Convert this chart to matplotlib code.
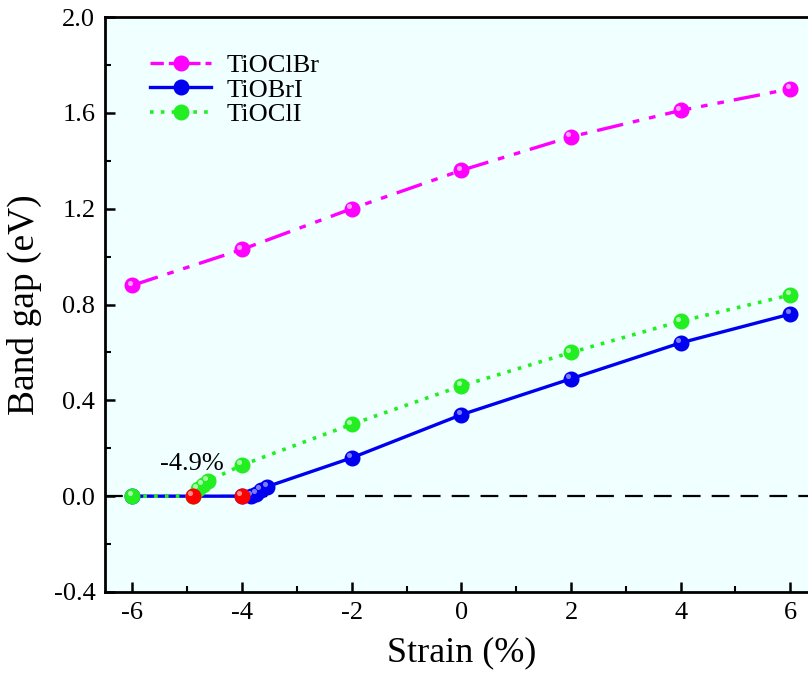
import matplotlib
matplotlib.use("Agg")
import matplotlib.pyplot as plt
from matplotlib.transforms import offset_copy
from matplotlib.lines import Line2D

plt.rcParams["font.family"] = ["Liberation Serif", "DejaVu Serif"]

# strain (%) and band gap (eV)
strain_clbr = [-6, -4, -2, 0, 2, 4, 6]
gap_clbr = [0.88, 1.03, 1.20, 1.36, 1.50, 1.61, 1.70]

strain_bri = [-6, -4, -3.83, -3.74, -3.65, -3.54, -2, 0, 2, 4, 6]
gap_bri = [0.0, 0.0, 0.0, 0.01, 0.025, 0.04, 0.16, 0.34, 0.49, 0.64, 0.76]

strain_cli = [-6, -4.9, -4.80, -4.71, -4.62, -4, -2, 0, 2, 4, 6]
gap_cli = [0.0, 0.0, 0.03, 0.046, 0.063, 0.13, 0.30, 0.46, 0.60, 0.73, 0.84]

# semiconductor -> metal transition points
strain_trans = [-4.9, -4.0]
gap_trans = [0.0, 0.0]

C_MAGENTA = "#FF00FF"
C_BLUE = "#0000F0"
C_GREEN = "#22EE22"
C_RED = "#FF0000"
BG = "#F0FFFF"

fig = plt.figure(figsize=(8.08, 6.81), dpi=100)
fig.patch.set_facecolor("white")
ax = fig.add_axes([0.130, 0.1307, 0.882, 0.8443])
ax.set_facecolor(BG)


def ball(x, y, color, light, ls, lw, z, ms=10.5):
    # plain marker + small light spot, so the points look a bit like spheres
    ax.plot(x, y, ls=ls, lw=lw, color=color, marker="o", ms=ms,
            mfc=color, mec=color, zorder=z)
    hl = offset_copy(ax.transData, fig=fig, x=-2, y=2, units="points")
    ax.plot(x, y, ls="none", marker="o", ms=ms * 0.35, mfc=light, mec="none",
            alpha=0.8, transform=hl, zorder=z + 0.1)


ax.axhline(0, color="black", lw=1.6, ls=(0, (8, 5)), zorder=2)

ball(strain_clbr, gap_clbr, C_MAGENTA, "#FFC8FF", (0, (8, 3, 2, 3, 2, 3)), 2.4, 3)
ball(strain_bri, gap_bri, C_BLUE, "#9C9CFF", "-", 2.4, 4)
ball(strain_cli, gap_cli, C_GREEN, "#C8FFC8", (0, (1, 2)), 2.6, 5)
ball(strain_trans, gap_trans, C_RED, "#FFB0B0", "none", 0, 7)

ax.text(-4.92, 0.135, "-4.9%", fontsize=19, ha="center", va="center", zorder=8)

ax.set_xlim(-6.5, 6.5)
ax.set_ylim(-0.4, 2.0)
ax.set_xticks([-6, -4, -2, 0, 2, 4, 6])
ax.set_xticks([-5, -3, -1, 1, 3, 5], minor=True)
ax.set_yticks([-0.4, 0.0, 0.4, 0.8, 1.2, 1.6, 2.0])
ax.set_yticks([-0.2, 0.2, 0.6, 1.0, 1.4, 1.8], minor=True)
ax.set_yticklabels(["-0.4", "0.0", "0.4", "0.8", "1.2", "1.6", "2.0"])
ax.set_xticklabels(["-6", "-4", "-2", "0", "2", "4", "6"])
ax.tick_params(which="major", direction="in", length=7, width=1.8, labelsize=19,
               pad=7, top=False, right=False)
ax.tick_params(which="minor", direction="in", length=4, width=1.5,
               top=False, right=False)
for s in ax.spines.values():
    s.set_linewidth(2.0)

ax.set_xlabel("Strain (%)", fontsize=26, labelpad=9)
ax.set_ylabel("Band gap (eV)", fontsize=27, labelpad=8)

handles = [
    Line2D([], [], color=C_MAGENTA, ls=(0, (4, 1.5)), lw=2.4, marker="o", ms=10.5),
    Line2D([], [], color=C_BLUE, ls="-", lw=2.4, marker="o", ms=10.5),
    Line2D([], [], color=C_GREEN, ls=(0, (1, 2)), lw=2.6, marker="o", ms=10.5),
]
ax.legend(handles, ["TiOClBr", "TiOBrI", "TiOClI"], loc="upper left",
          bbox_to_anchor=(0.03, 0.978), frameon=False, fontsize=19,
          handlelength=2.3, labelspacing=0.05, handletextpad=0.6)

fig.savefig("out.png", dpi=100, facecolor="white")
plt.close(fig)
